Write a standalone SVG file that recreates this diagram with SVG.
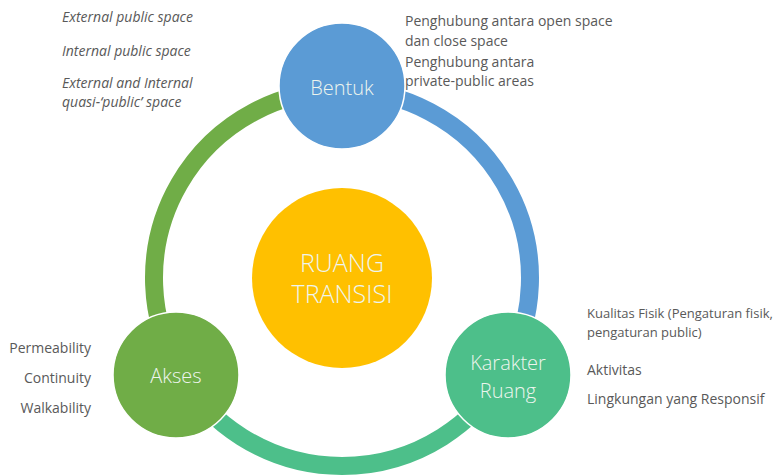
<svg xmlns="http://www.w3.org/2000/svg" width="784" height="475" viewBox="0 0 784 475">
  <style>
    .arc { fill: none; stroke-width: 18; }
    .node { stroke: #ffffff; stroke-width: 1.5; }
    .nlabel { font-family: "Open Sans", "Liberation Sans", sans-serif; font-weight: 300; fill: #eef5ee; text-anchor: middle; }
    .note { font-family: "Open Sans", "Liberation Sans", sans-serif; font-size: 14px; fill: #595959; }
    .noteS { font-family: "Open Sans", "Liberation Sans", sans-serif; font-size: 13px; fill: #595959; }
    .noteI { font-family: "Open Sans", "Liberation Sans", sans-serif; font-size: 14px; font-style: italic; fill: #595959; }
  </style>
  <rect width="784" height="475" fill="#ffffff"/>

  <!-- cycle ring: three coloured arcs around the centre (342,278), r=188 -->
  <g id="connectors">
    <path class="arc" stroke="#5b9bd5" d="M 342 90 A 188 188 0 0 1 504.8 372"/>
    <path class="arc" stroke="#4dbf8a" d="M 504.8 372 A 188 188 0 0 1 179.2 372"/>
    <path class="arc" stroke="#70ad47" d="M 179.2 372 A 188 188 0 0 1 342 90"/>
  </g>

  <g id="ruang-transisi">
    <circle cx="342" cy="278" r="90" fill="#ffc000"/>
    <text class="nlabel" x="342" y="272" font-size="25">RUANG</text>
    <text class="nlabel" x="342" y="303" font-size="25">TRANSISI</text>
  </g>

  <g id="bentuk">
    <circle class="node" cx="342" cy="86" r="63" fill="#5b9bd5"/>
    <text class="nlabel" x="342" y="95" font-size="20">Bentuk</text>
  </g>

  <g id="akses">
    <circle class="node" cx="176" cy="375" r="63" fill="#70ad47"/>
    <text class="nlabel" x="176" y="383" font-size="20">Akses</text>
  </g>

  <g id="karakter-ruang">
    <circle class="node" cx="508" cy="375" r="63" fill="#4dbf8a"/>
    <text class="nlabel" x="508" y="370" font-size="20">Karakter</text>
    <text class="nlabel" x="508" y="398" font-size="20">Ruang</text>
  </g>

  <!-- notes for Bentuk (left) -->
  <g id="notes-bentuk-left">
    <text class="noteI" x="62" y="22">External public space</text>
    <text class="noteI" x="62" y="56">Internal public space</text>
    <text class="noteI" x="62" y="88">External and Internal</text>
    <text class="noteI" x="62" y="107">quasi-‘public’ space</text>
  </g>

  <!-- notes for Bentuk (right) -->
  <g id="notes-bentuk-right">
    <text class="note" x="405" y="26">Penghubung antara open space</text>
    <text class="note" x="405" y="46">dan close space</text>
    <text class="note" x="405" y="67">Penghubung antara</text>
    <text class="note" x="405" y="86">private-public areas</text>
  </g>

  <!-- notes for Karakter Ruang -->
  <g id="notes-karakter">
    <text class="noteS" x="587" y="318">Kualitas Fisik (Pengaturan fisik,</text>
    <text class="noteS" x="587" y="337">pengaturan public)</text>
    <text class="note" x="587" y="375">Aktivitas</text>
    <text class="note" x="587" y="404">Lingkungan yang Responsif</text>
  </g>

  <!-- notes for Akses -->
  <g id="notes-akses" text-anchor="end">
    <text class="note" x="91" y="353">Permeability</text>
    <text class="note" x="91" y="383">Continuity</text>
    <text class="note" x="91" y="413">Walkability</text>
  </g>
</svg>
